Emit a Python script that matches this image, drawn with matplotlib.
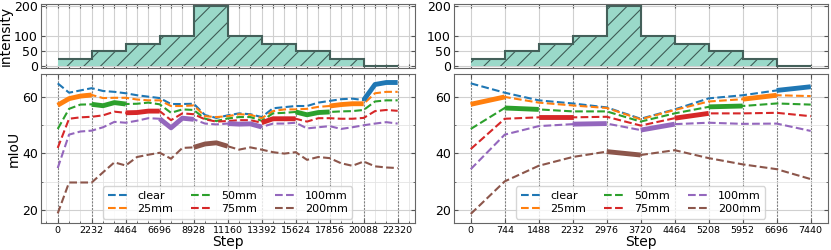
import matplotlib
matplotlib.use('Agg')
import matplotlib.pyplot as plt
import numpy as np
from matplotlib.ticker import MultipleLocator

labels = ['clear', '25mm', '50mm', '75mm', '100mm', '200mm']
colors = ['tab:blue', 'tab:orange', 'tab:green', 'tab:red', 'tab:purple', 'tab:brown']

# rain intensity per stage (mm), same profile on both sides
intensity = [25, 50, 75, 100, 200, 100, 75, 50, 25, 0]
stage_label = ['25mm', '50mm', '75mm', '100mm', '200mm', '100mm', '75mm', '50mm', '25mm', 'clear']

# left: 31 evaluation points every 744 steps, stage length 2232
left_clear = [64.7, 61.4, 62.2, 63.0, 62.0, 61.7, 61.2, 60.5, 60.0, 59.5, 57.4, 57.4, 57.5, 53.5, 52.5, 53.4,
              54.1, 53.8, 52.8, 55.9, 56.3, 56.7, 56.7, 57.9, 58.5, 59.1, 59.3, 58.8, 64.3, 65.0, 65.0]
left_25 = [57.0, 59.3, 60.2, 60.6, 59.5, 59.6, 59.6, 59.0, 58.7, 58.7, 56.7, 56.7, 56.9, 53.1, 52.8, 53.1,
           53.8, 53.6, 52.4, 54.9, 55.5, 55.5, 55.7, 56.4, 56.7, 57.2, 57.5, 57.5, 61.2, 61.7, 61.7]
left_50 = [48.6, 55.7, 57.2, 57.3, 56.8, 57.9, 57.4, 57.5, 57.9, 57.3, 54.3, 55.5, 55.3, 52.2, 51.4, 52.3,
           52.8, 52.8, 51.5, 54.1, 54.3, 54.6, 53.6, 54.4, 54.6, 54.8, 54.9, 55.3, 58.3, 58.7, 58.7]
left_75 = [41.9, 52.2, 52.7, 52.9, 53.4, 54.7, 54.3, 54.4, 54.9, 54.9, 51.7, 54.1, 53.8, 52.0, 51.2, 51.4,
           51.7, 51.7, 50.8, 52.2, 52.2, 52.2, 51.2, 52.4, 52.4, 52.2, 52.2, 52.5, 54.9, 55.3, 55.0]
left_100 = [34.8, 46.6, 47.7, 48.0, 49.2, 51.1, 50.8, 51.5, 52.4, 52.2, 49.0, 52.4, 52.0, 50.5, 50.2, 50.5,
            50.3, 50.4, 49.3, 50.5, 50.5, 50.8, 48.8, 49.2, 49.6, 48.6, 49.2, 49.9, 50.5, 51.0, 50.5]
left_200 = [18.8, 29.7, 29.7, 29.7, 33.3, 36.8, 35.7, 38.7, 39.5, 40.2, 38.1, 41.9, 42.1, 43.3, 43.7, 42.5,
            41.3, 42.1, 41.3, 40.4, 39.9, 40.4, 37.7, 38.7, 38.3, 36.5, 35.6, 37.1, 35.4, 35.0, 34.8]

# right: 11 evaluation points every 744 steps, stage length 744
right_clear = [64.7, 61.4, 58.7, 57.6, 56.2, 52.2, 55.5, 59.4, 60.5, 62.2, 63.5]
right_25 = [57.3, 59.9, 57.9, 56.9, 56.0, 52.0, 55.3, 58.3, 59.1, 60.5, 60.2]
right_50 = [48.6, 56.0, 55.5, 54.8, 54.8, 51.2, 54.1, 56.4, 56.7, 57.6, 57.2]
right_75 = [41.5, 52.2, 52.7, 52.7, 52.9, 49.8, 52.4, 54.1, 54.1, 54.3, 53.1]
right_100 = [34.4, 46.6, 49.6, 50.3, 50.5, 48.2, 50.3, 50.8, 50.4, 50.5, 47.9]
right_200 = [18.6, 30.1, 35.6, 38.7, 40.6, 39.4, 41.1, 38.3, 36.1, 34.4, 30.9]

left_series = [left_clear, left_25, left_50, left_75, left_100, left_200]
right_series = [right_clear, right_25, right_50, right_75, right_100, right_200]

plt.rcParams['hatch.linewidth'] = 0.8

fig = plt.figure(figsize=(8.31, 2.5), dpi=100)
axes = {
    'lt': fig.add_axes([0.049, 0.728, 0.450, 0.256]),
    'lb': fig.add_axes([0.049, 0.108, 0.450, 0.596]),
    'rt': fig.add_axes([0.546, 0.728, 0.450, 0.256]),
    'rb': fig.add_axes([0.546, 0.108, 0.450, 0.596]),
}


def draw(ax_top, ax_bot, series, per_stage, show_label):
    n = len(series[0])
    x = np.arange(n) * 744
    stage_len = per_stage * 744
    edges = np.arange(len(intensity) + 1) * stage_len

    ax_top.stairs(intensity, edges, fill=True, facecolor='#9ad9c9', edgecolor='#3f5c56',
                  hatch='//', linewidth=0, baseline=0)
    ax_top.stairs(intensity, edges, fill=False, edgecolor='#44605a', linewidth=1.5, baseline=None)
    ax_top.set_ylim(-5, 207)
    ax_top.set_yticks([0, 50, 100, 200])
    ax_top.set_xlim(x[0] - 0.05 * x[-1], x[-1] * 1.05)
    ax_top.xaxis.set_major_locator(MultipleLocator(744))
    ax_top.tick_params(labelbottom=False)
    ax_top.grid(True, color='#d0d0d0', lw=0.8)
    ax_top.set_axisbelow(True)

    for vals, lab, c in zip(series, labels, colors):
        ax_bot.plot(x, vals, '--', color=c, lw=1.5, label=lab)
    for k, lab in enumerate(stage_label):
        i = labels.index(lab)
        sl = slice(k * per_stage, (k + 1) * per_stage + 1)
        ax_bot.plot(x[sl], series[i][sl], '-', color=colors[i], lw=3.5, solid_capstyle='butt')

    ax_bot.set_xlim(x[0] - 0.05 * x[-1], x[-1] * 1.05)
    ax_bot.set_ylim(15.4, 68)
    ax_bot.set_xticks(edges)
    ax_bot.xaxis.set_minor_locator(MultipleLocator(744))
    ax_bot.yaxis.set_major_locator(MultipleLocator(20))
    ax_bot.yaxis.set_minor_locator(MultipleLocator(10))
    ax_bot.grid(True, which='major', axis='x', color='#808080', lw=0.8, ls=(0, (2, 1)))
    ax_bot.grid(True, which='major', axis='y', color='#d0d0d0', lw=0.8)
    ax_bot.grid(True, which='minor', color='#e4e4e4', lw=0.6)
    ax_bot.set_axisbelow(True)
    ax_bot.set_xlabel('Step', fontsize=10, labelpad=0)
    ax_bot.legend(loc='lower center', ncol=3, fontsize=8, handlelength=1.9, handletextpad=0.8,
                  columnspacing=1.6, borderaxespad=0.4, labelspacing=0.3)

    for ax in (ax_top, ax_bot):
        ax.tick_params(direction='in', which='both', top=True, right=True, length=3, color='#555555')
        ax.tick_params(which='minor', length=1.5)
        ax.tick_params(axis='y', labelsize=9, pad=2)
        for s in ax.spines.values():
            s.set_color('#666666')
            s.set_linewidth(0.8)
    ax_bot.tick_params(axis='x', labelsize=6.8, pad=2)
    if show_label:
        ax_top.set_ylabel('intensity', fontsize=10, labelpad=1)
        ax_bot.set_ylabel('mIoU', fontsize=10, labelpad=1)


draw(axes['lt'], axes['lb'], left_series, 3, True)
draw(axes['rt'], axes['rb'], right_series, 1, False)

fig.savefig('out.png', dpi=100)
